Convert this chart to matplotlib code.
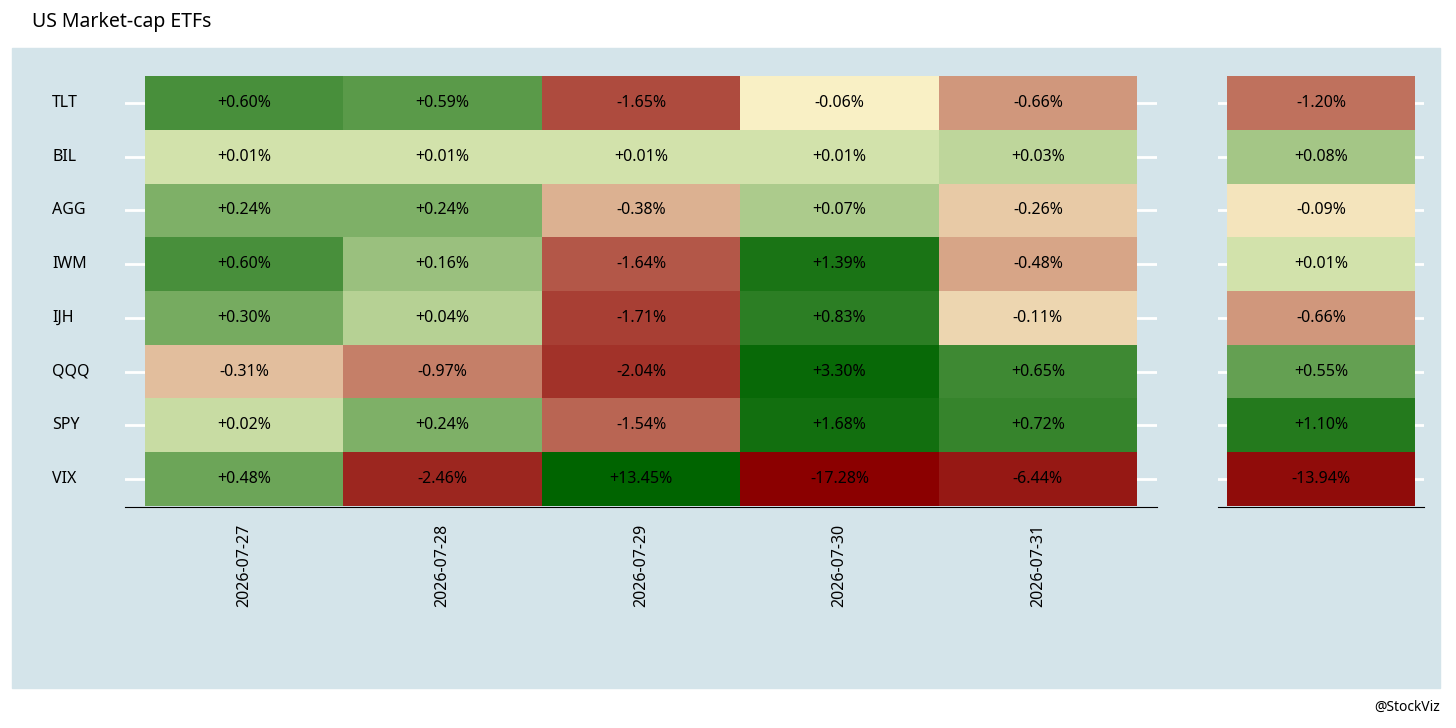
import numpy as np
import matplotlib
matplotlib.use("Agg")
from matplotlib import pyplot as plt
from matplotlib.colors import LinearSegmentedColormap
from matplotlib.patches import Rectangle
from matplotlib.transforms import blended_transform_factory

plt.rcParams['font.family'] = ['Noto Sans', 'DejaVu Sans']

tickers = ['TLT', 'BIL', 'AGG', 'IWM', 'IJH', 'QQQ', 'SPY', 'VIX']
dates = ['2026-07-27', '2026-07-28', '2026-07-29', '2026-07-30', '2026-07-31']
daily = np.array([
    [0.60, 0.59, -1.65, -0.06, -0.66],
    [0.01, 0.01, 0.01, 0.01, 0.03],
    [0.24, 0.24, -0.38, 0.07, -0.26],
    [0.60, 0.16, -1.64, 1.39, -0.48],
    [0.30, 0.04, -1.71, 0.83, -0.11],
    [-0.31, -0.97, -2.04, 3.30, 0.65],
    [0.02, 0.24, -1.54, 1.68, 0.72],
    [0.48, -2.46, 13.45, -17.28, -6.44],
])
total = np.array([-1.20, 0.08, -0.09, 0.01, -0.66, 0.55, 1.10, -13.94])

cmap = LinearSegmentedColormap.from_list('rg', ['#8b0000', '#fffdd0', '#006400'])

# colour by rank among all cells, separately for losses and gains
all_vals = np.concatenate([daily.ravel(), total])
neg = np.sort(all_vals[all_vals < 0])[::-1]   # closest to zero first
pos = np.sort(all_vals[all_vals >= 0])


def color_of(v):
    if v < 0:
        r = np.searchsorted(-neg, -v) + 1
        t = 0.5 - 0.5 * r / len(neg)
    else:
        r = np.searchsorted(pos, v, side='right')
        t = 0.5 + 0.5 * r / len(pos)
    return cmap(t)


def draw(ax, data, xlabels):
    n_rows, n_cols = data.shape
    for j in range(n_cols):
        for i in range(n_rows):
            y = n_rows - 1 - i
            ax.add_patch(Rectangle((j - 0.5, y - 0.5), 1, 1, color=color_of(data[i, j]), lw=0))
            ax.text(j, y, f"{data[i, j]:+.2f}%", ha='center', va='center', fontsize=11.5)
    ax.set_facecolor('none')
    for y in range(n_rows):
        ax.axhline(y, color='white', lw=2, zorder=0)
    ax.set_ylim(-0.52, n_rows - 0.48)
    ax.set_yticks([])
    ax.set_xticks(range(n_cols))
    ax.set_xticklabels(xlabels, rotation=90, fontsize=11.5)
    for s in ['top', 'right', 'left']:
        ax.spines[s].set_visible(False)
    ax.spines['bottom'].set_color('black')
    ax.tick_params(axis='both', length=0, pad=12)


fig = plt.figure(figsize=(14.56, 7.28), dpi=100)
fig.patches.append(Rectangle((12 / 1456, 1 - 688 / 728), 1428 / 1456, 640 / 728,
                             transform=fig.transFigure, color='#d4e4ea', zorder=-1))

ax1 = fig.add_axes([125 / 1456, 1 - 507 / 728, 1032 / 1456, 432 / 728])
draw(ax1, daily, dates)
ax1.set_xlim(-0.6, 4.6)
tr = blended_transform_factory(fig.transFigure, ax1.transData)
for i, name in enumerate(tickers):
    ax1.text(52 / 1456, len(tickers) - 1 - i, name, transform=tr,
             ha='left', va='center', fontsize=11.5)

ax2 = fig.add_axes([1218 / 1456, 1 - 507 / 728, 206 / 1456, 432 / 728])
draw(ax2, total[:, None], [''])
ax2.set_xlim(-0.55, 0.55)

fig.text(32 / 1456, 1 - 22 / 728, 'US Market-cap ETFs', fontsize=14, va='center')
fig.text(1440 / 1456, 1 - 707 / 728, '@StockViz', fontsize=10, ha='right', va='center')

fig.savefig('out.png', dpi=100)
